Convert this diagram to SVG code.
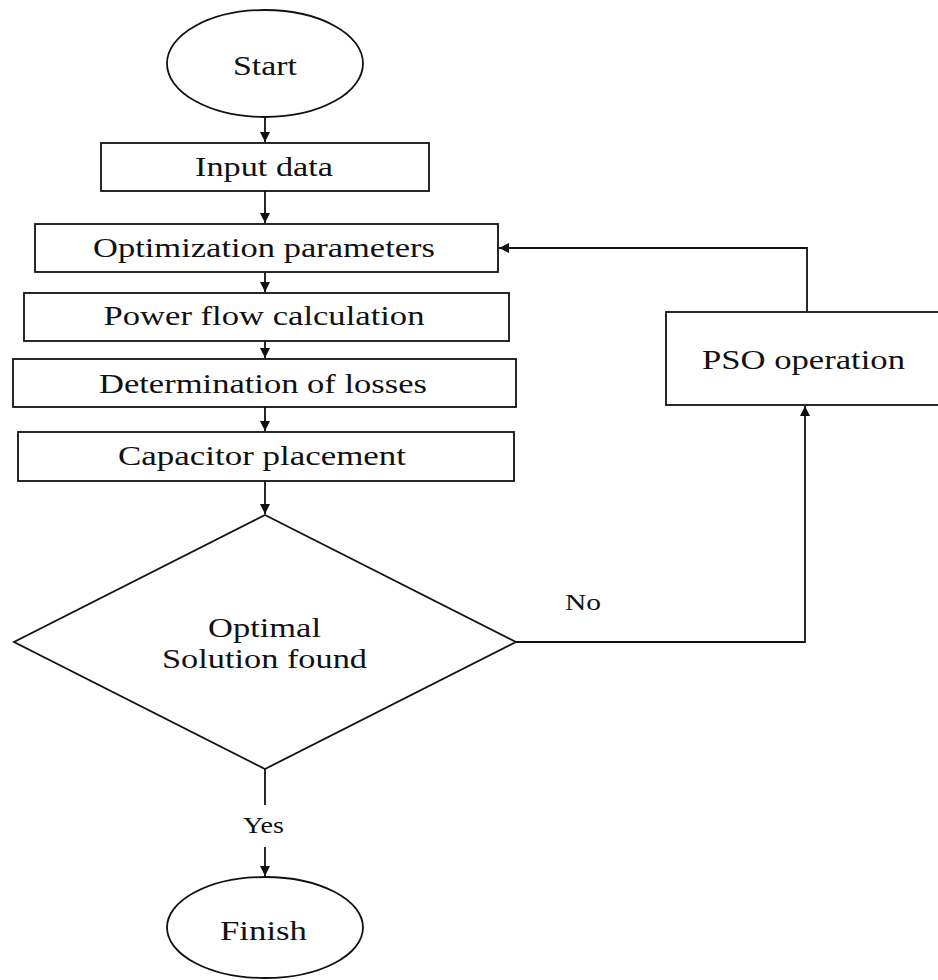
<svg xmlns="http://www.w3.org/2000/svg" width="938" height="980" viewBox="0 0 938 980">
<defs>
<marker id="arr" markerUnits="userSpaceOnUse" markerWidth="12" markerHeight="12" refX="10" refY="5" orient="auto">
<path d="M0,0 L10,5 L0,10 Z" fill="#111"/>
</marker>
<style>
.shape{fill:#fff;stroke:#111;stroke-width:1.8}
.lbl{font-family:'Liberation Serif','Times New Roman',Tinos,serif;font-size:27px;fill:#111;text-anchor:middle}
.sm{font-size:24px}
.conn{fill:none;stroke:#111;stroke-width:1.8}
</style>
</defs>
<rect width="938" height="980" fill="#fff"/>
<g id="connectors">
<line class="conn" x1="265" y1="117" x2="265" y2="142" marker-end="url(#arr)"/>
<line class="conn" x1="265" y1="191" x2="265" y2="223" marker-end="url(#arr)"/>
<line class="conn" x1="265" y1="272" x2="265" y2="292" marker-end="url(#arr)"/>
<line class="conn" x1="265" y1="341" x2="265" y2="358" marker-end="url(#arr)"/>
<line class="conn" x1="265" y1="407" x2="265" y2="431" marker-end="url(#arr)"/>
<line class="conn" x1="265" y1="481" x2="265" y2="514" marker-end="url(#arr)"/>
<line class="conn" x1="265" y1="769" x2="265" y2="805"/>
<line class="conn" x1="265" y1="847" x2="265" y2="876" marker-end="url(#arr)"/>
<path class="conn" d="M516,642 H805 V406" marker-end="url(#arr)"/>
<path class="conn" d="M807,312 V248 H499" marker-end="url(#arr)"/>
<text class="lbl sm" x="263.5" y="833" font-family="Liberation Serif, serif" textLength="41" lengthAdjust="spacingAndGlyphs">Yes</text>
<text class="lbl sm" x="583" y="610" font-family="Liberation Serif, serif" textLength="36" lengthAdjust="spacingAndGlyphs">No</text>
</g>
<g id="start">
<ellipse class="shape" cx="265" cy="63.5" rx="98" ry="53.5"/>
<text class="lbl" x="265" y="75" font-family="Liberation Serif, serif" textLength="64" lengthAdjust="spacingAndGlyphs">Start</text>
</g>
<g id="input">
<rect class="shape" x="101" y="143" width="328" height="48"/>
<text class="lbl" x="264" y="176" font-family="Liberation Serif, serif" textLength="138" lengthAdjust="spacingAndGlyphs">Input data</text>
</g>
<g id="optparams">
<rect class="shape" x="35" y="224" width="463" height="48"/>
<text class="lbl" x="264" y="257" font-family="Liberation Serif, serif" textLength="342" lengthAdjust="spacingAndGlyphs">Optimization parameters</text>
</g>
<g id="powerflow">
<rect class="shape" x="24" y="293" width="485" height="48"/>
<text class="lbl" x="264" y="325" font-family="Liberation Serif, serif" textLength="321" lengthAdjust="spacingAndGlyphs">Power flow calculation</text>
</g>
<g id="losses">
<rect class="shape" x="13" y="359" width="503" height="48"/>
<text class="lbl" x="263" y="393" font-family="Liberation Serif, serif" textLength="328" lengthAdjust="spacingAndGlyphs">Determination of losses</text>
</g>
<g id="capacitor">
<rect class="shape" x="18" y="432" width="496" height="49"/>
<text class="lbl" x="262" y="465" font-family="Liberation Serif, serif" textLength="288" lengthAdjust="spacingAndGlyphs">Capacitor placement</text>
</g>
<g id="decision">
<polygon class="shape" points="265,515 516,642 265,769 14,642"/>
<text class="lbl" x="264.5" y="637" font-family="Liberation Serif, serif" textLength="113" lengthAdjust="spacingAndGlyphs">Optimal</text>
<text class="lbl" x="264.5" y="668" font-family="Liberation Serif, serif" textLength="205" lengthAdjust="spacingAndGlyphs">Solution found</text>
</g>
<g id="pso">
<rect class="shape" x="666" y="312" width="290" height="93"/>
<text class="lbl" x="803.5" y="369" font-family="Liberation Serif, serif" textLength="203" lengthAdjust="spacingAndGlyphs">PSO operation</text>
</g>
<g id="finish">
<ellipse class="shape" cx="265" cy="927.5" rx="98" ry="50.5"/>
<text class="lbl" x="263.5" y="940" font-family="Liberation Serif, serif" textLength="87" lengthAdjust="spacingAndGlyphs">Finish</text>
</g>
</svg>
